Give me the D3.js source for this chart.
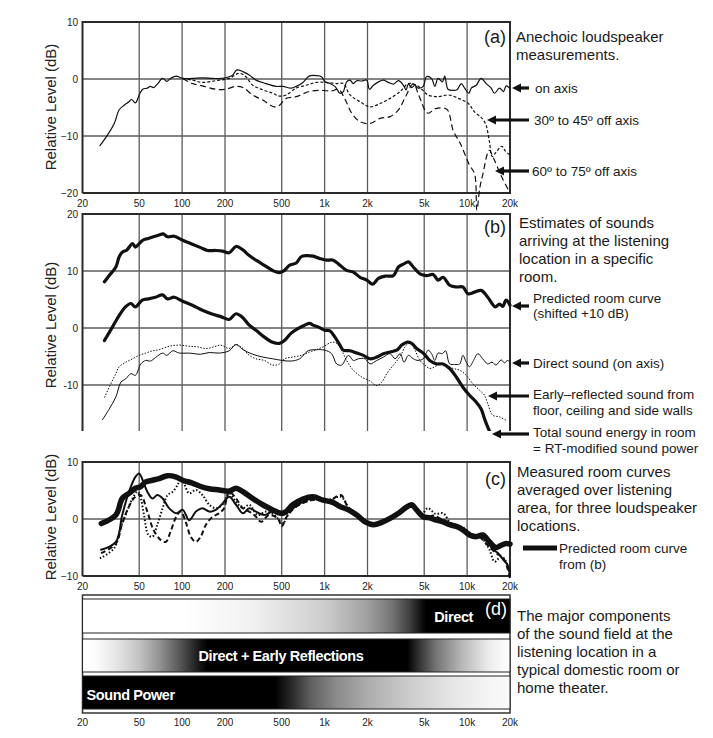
<!DOCTYPE html>
<html><head><meta charset="utf-8">
<script src="https://cdn.jsdelivr.net/npm/d3@7"></script>
<style>body{margin:0;background:#fff}svg{display:block}</style>
</head><body><svg id="chart" width="713" height="738"></svg>
<script>
// ---------- DATA ----------
const freqTicks = [20,50,100,200,500,1000,2000,5000,10000,20000];
const freqLabels = ["20","50","100","200","500","1k","2k","5k","10k","20k"];
const gridFreqs = [50,100,200,500,1000,2000,5000,10000];

const yTicksA = [10,0,-10,-20], yLabelsA = ["10","0","\u221210","\u221220"];
const yTicksB = [20,10,0,-10],  yLabelsB = ["20","10","0","-10"];
const yTicksC = [10,0,-10],     yLabelsC = ["10","0","\u221210"];

// (a) anechoic
const onAxis = [[26.5,-11.7],[30,-9.8],[33.4,-7.8],[36.2,-5.4],[39.2,-4.6],[42.4,-4],[44.2,-3.6],[47,-4.2],[50.6,-2.5],[52.9,-1.8],[57,-1.6],[60,-1.3],[63,-1.5],[67,-0.9],[73,0.1],[78,-0.4],[83,0.1],[91,0.5],[101,0.1],[118,0.1],[139,0.2],[164,0.1],[192,0.1],[214,0.4],[227,0.7],[242,1.6],[267,1.3],[296,0.7],[330,-0.2],[388,-0.8],[456,-1.3],[509,-1.3],[583,-1.6],[632,-1.3],[705,-0.6],[778,0.5],[877,0.6],[951,0.4],[1005,-0.5],[1090,-0.8],[1182,-1.3],[1282,-2.5],[1353,-2.2],[1428,-0.5],[1508,-0.2],[1591,-0.8],[1680,-0.3],[1822,-0.35],[1975,-0.2],[2063,-1.8],[2200,-1.1],[2386,-0.5],[2587,-0.2],[2805,-0.6],[3041,-0.9],[3297,-0.3],[3574,-1.1],[3730,-1.9],[3872,-0.9],[4083,-1.5],[4305,-1.1],[4540,-1.6],[4921,-1.3],[5190,0.4],[5627,0.1],[5934,-1.3],[6257,0.1],[6710,-0.5],[6966,0.5],[7345,-1.8],[7963,-2],[8490,-1.9],[9100,-0.8],[9605,-1.6],[10295,-2.5],[10690,-1.6],[11580,-1.1],[12550,0.1],[13610,-0.8],[14750,-1.6],[15570,-2.5],[16880,-1.6],[18000,-2.2],[18790,-1.2],[19830,-1.6]];
const offAxis30 = [[101,0.1],[118,-0.2],[139,-0.6],[172,-0.3],[214,0.1],[251,1.0],[280,0.4],[313,-1.1],[368,-1.9],[432,-2.5],[482,-3.0],[537,-2.8],[632,-1.6],[740,-1.1],[877,-0.6],[1032,-0.6],[1215,-0.8],[1353,-0.8],[1508,-2.8],[1774,-4.0],[2086,-4.9],[2450,-4.3],[2880,-3.4],[3388,-2.2],[3872,-0.8],[4420,-1.1],[4900,-2.0],[5300,-2.8],[6300,-3.1],[7400,-2.8],[8700,-3.4],[10200,-4.3],[11300,-5.8],[12500,-6.7],[13500,-7.9],[14300,-10.8],[15000,-13.6],[16000,-12.8],[17500,-11.8],[18500,-12.6],[19900,-13.3]];
const offAxis60 = [[101,0.1],[118,-0.8],[139,-1.2],[172,-1.8],[200,-1.8],[239,-1.3],[267,-1.5],[313,-2.8],[368,-3.7],[442,-4.9],[482,-4.6],[537,-3.4],[632,-3.1],[778,-2.2],[950,-2],[1120,-2.1],[1250,-1.8],[1400,-3.7],[1550,-6],[1774,-7.5],[2086,-7.8],[2450,-6.9],[2880,-6.6],[3300,-5.4],[3700,-3.1],[4200,-0.8],[4600,-3.0],[5300,-6],[6000,-5.2],[7200,-5.3],[8000,-9.1],[9000,-11.4],[10300,-14.9],[11300,-16.7],[11700,-23],[12300,-19],[12900,-16.7],[14300,-12.5],[15400,-14],[17500,-17.2],[20000,-20]];

// (b) estimates
const predictedShifted = [[28.5,8.1],[30.8,9.2],[34.3,10.7],[36.2,12.5],[38,13.3],[41,13.7],[44.9,14.8],[47,14.2],[51.3,15.1],[54,15.5],[58,15.7],[63,16],[69,16.3],[73.6,16.5],[79,16],[88,16.1],[101,15.4],[118,14.7],[135,14.1],[151,13.6],[172,13.6],[192,13.5],[214,13.2],[239,14.3],[267,13.7],[296,12.7],[330,11.9],[378,11],[432,10.1],[482,9.7],[523,10.1],[566,11],[632,11.4],[685,12.5],[740,12.7],[830,12.6],[925,12.2],[1032,11.9],[1150,11.9],[1282,11],[1428,10.1],[1591,9.8],[1774,8.9],[1975,8.4],[2176,7.7],[2386,8.7],[2657,9.1],[3041,9.2],[3297,10.7],[3574,11.2],[3872,11.6],[4193,10.7],[4667,9.5],[5190,9.2],[5780,9.4],[6257,8.4],[6780,8.9],[7546,7.5],[8400,7.2],[9350,7.2],[10130,6.0],[11280,6.3],[12550,6.6],[13960,5.4],[15770,3.7],[16880,4.2],[17790,3.8],[18790,4.9],[20000,4]];
const totalEnergy = [[28.5,-2.2],[32.5,0.2],[36.2,2.2],[40,3.7],[43.7,4.3],[47,3.7],[52.6,4.9],[58,5.1],[65,5.4],[73,5.8],[79,5.1],[88,5.4],[101,4.7],[118,4],[139,3.1],[164,2.4],[187,2],[214,1.5],[239,2.5],[267,1.8],[296,0.5],[330,-0.4],[378,-1.6],[432,-2.5],[482,-2.7],[523,-2.2],[583,-0.9],[650,-0.1],[724,0.5],[787,0.8],[830,0.5],[900,0.2],[1005,-0.4],[1090,-0.5],[1182,-1.6],[1282,-3],[1353,-3.9],[1508,-4],[1680,-4.4],[1872,-4.8],[2086,-5.4],[2324,-5.1],[2587,-4.5],[2880,-4.2],[3206,-3.9],[3478,-3],[3770,-2.5],[4083,-2.7],[4420,-3.6],[4921,-4.4],[5470,-5.7],[6100,-6.3],[6780,-6.3],[7546,-7.1],[8400,-8.6],[9350,-10.4],[10400,-11.8],[11580,-13],[12550,-14.2],[13240,-15.9],[13960,-17.4],[14500,-18.3]];
const directSound = [[27.6,-16.1],[30.8,-14.2],[34.3,-12.1],[37.2,-9.5],[40.3,-8.9],[43.7,-8],[47,-8.3],[51.3,-6.3],[55.5,-5.7],[60,-5.8],[65,-5.2],[73,-4.4],[78,-4.8],[86,-4],[95.5,-4.4],[112,-4.4],[135,-4.6],[155,-4.3],[182,-4.4],[214,-4],[239,-2.9],[267,-3.8],[313,-4.6],[368,-5.1],[432,-5.4],[509,-5.7],[583,-5.8],[668,-5.4],[766,-4],[877,-3.8],[1005,-3.9],[1120,-4.5],[1215,-6.3],[1317,-6.5],[1468,-4.8],[1591,-5.7],[1728,-5.4],[1924,-5.4],[2086,-6.3],[2324,-5.7],[2587,-5.1],[2880,-4.5],[3121,-5.4],[3388,-4.5],[3612,-6],[3872,-4.8],[4193,-5.4],[4540,-5.7],[4921,-5.4],[5330,-3.9],[5627,-4.5],[5934,-5.7],[6257,-4.4],[6710,-4.5],[7066,-4],[7546,-6.3],[8170,-6.4],[8870,-6.3],[9350,-4.8],[9860,-6],[10400,-6.8],[11090,-5.7],[11900,-4.5],[12870,-5.4],[13960,-6.3],[14960,-6],[15940,-6.5],[17350,-5.6],[18270,-6.1],[19250,-5.7],[20000,-6]];
const earlyReflected = [[28.5,-12.2],[31.6,-9.8],[34.3,-8],[36.2,-6.8],[40.3,-6],[44.9,-5.4],[50,-4.8],[55.5,-4.4],[62,-4],[69,-3.8],[81,-3.2],[95.5,-3],[112,-3.2],[128,-3.3],[147,-3.6],[168,-3.3],[187,-3],[214,-3.6],[239,-2.9],[267,-3.6],[296,-4.8],[330,-5.4],[378,-5.7],[432,-6.5],[482,-6.3],[523,-5.4],[598,-5.1],[685,-4.8],[787,-4.2],[877,-3.8],[978,-3.3],[1120,-2.5],[1215,-2.7],[1317,-3.9],[1428,-5.7],[1591,-7.4],[1822,-8.6],[2086,-9.3],[2324,-10.1],[2520,-9.5],[2730,-8],[3041,-6.5],[3388,-5],[3670,-3.3],[3975,-2.5],[4305,-3.9],[4667,-5.7],[5050,-6.5],[5470,-7.1],[5934,-6.8],[6430,-6.3],[7150,-6.5],[7963,-7.1],[8870,-7.4],[9860,-8.3],[10970,-9.8],[12210,-10.9],[13240,-11.8],[13960,-13.3],[15120,-15.3],[16880,-15.6],[18790,-16.2]];

// (c) measured
const predictedC = [[27.1,-0.8],[34.3,0.7],[38,3.6],[42.4,4.5],[47,5.4],[51.3,5.7],[55.5,6.5],[62,6.8],[69,7.1],[79,7.6],[90,7.4],[101,6.8],[118,6.3],[135,5.7],[155,5.3],[182,5.1],[214,4.9],[239,5.4],[267,4.8],[313,3.6],[368,2.5],[432,1.6],[495,1],[537,1.3],[598,2.5],[705,3.5],[830,3.9],[978,3.3],[1120,3],[1282,2.2],[1468,1.6],[1680,0.7],[1924,-0.5],[2200,-1],[2520,-0.6],[2880,0.1],[3297,1],[3670,1.9],[4083,2.5],[4420,1.6],[4921,0.4],[5470,0.2],[6100,-0.2],[6780,-0.5],[7546,-1],[8400,-1.3],[9350,-1.9],[10400,-2.8],[11580,-3.1],[12870,-2.8],[14330,-4],[15940,-5],[17350,-4.6],[18790,-4.3],[20000,-4.4]];
const measSolid = [[27,-5.4],[34.3,-4],[38,0.7],[42.4,4.8],[47,7.4],[50,8],[52.9,6.8],[57,4.8],[62,3.6],[67,4.2],[73,3.6],[81,1.9],[91,1],[101,1.6],[112,-0.2],[125,1.3],[139,1.9],[155,1.3],[172,1.6],[192,2.7],[214,3.9],[239,2.5],[267,1],[296,1.9],[330,1.3],[378,0.7],[432,1.3],[509,0.7],[580,1.6],[680,2.8],[820,3.6],[980,3.1],[1150,2.6],[1350,1.8],[1600,0.9],[1900,-0.4],[2200,-1.0],[2600,-0.4],[3000,0.4],[3500,1.6],[4000,2.2],[4500,1.2],[5000,0.1],[5600,0.3],[6300,-0.3],[7200,-0.8],[8200,-1.2],[9400,-2.0],[10500,-2.7],[12000,-3.0],[13500,-3.6],[15000,-5.2],[16500,-6.0],[18000,-7.2],[19200,-8.0],[20000,-9.8]];
const measDotted = [[26.5,-6.9],[33.4,-5.1],[37,-1.6],[41,1.3],[44.9,3.6],[48.5,4.8],[51.3,3.6],[54,0.7],[58,-2.8],[62,-3.1],[67,-1],[73,1.9],[79,4.2],[86,4.8],[93,6],[98,7.1],[104,6],[112,4.5],[125,5.1],[139,4.2],[155,2.5],[172,1.9],[192,2.5],[214,4.5],[239,3],[267,1.9],[296,2.5],[339,0.7],[388,1.3],[445,0.7],[509,-0.8],[552,0.7],[640,2.4],[760,3.2],[900,3.7],[1050,3.3],[1300,3.9],[1500,1.8],[1750,0.5],[2000,-0.6],[2400,-0.8],[2800,0.2],[3300,1.2],[3800,2.4],[4300,2.0],[4800,0.8],[5300,1.9],[6000,0.9],[6800,1.0],[7600,-0.6],[8500,-1.1],[9500,-1.6],[10800,-2.6],[12300,-3.0],[14300,-5.3],[15600,-7.5],[17300,-6.6],[18800,-7.5],[20000,-10]];
const measDashed = [[27,-6],[34.3,-4.3],[38,-0.8],[42.4,2.2],[47,3.9],[51.3,4.2],[57,1.3],[63,-1.9],[71,-3.7],[77,-4],[83,-2.2],[91,0.4],[98,1.3],[106,-0.5],[115,-3.1],[125,-4],[135,-3.1],[147,-1],[164,0.4],[182,1],[197,1.9],[214,4.8],[239,3.6],[267,1.9],[296,1.3],[330,0.4],[358,-0.5],[407,0.7],[470,0.1],[500,-1.3],[542,0.4],[620,2.0],[740,3.0],[880,3.4],[1050,3.0],[1300,4.2],[1450,2.2],[1700,0.8],[1950,-0.6],[2300,-0.8],[2700,0],[3200,1.0],[3700,2.1],[4200,2.3],[4700,1.0],[5200,0.2],[5800,0.6],[6600,0.0],[7500,-0.7],[8400,-1.4],[9400,-1.7],[10600,-2.9],[12200,-3.2],[14300,-4.9],[16000,-6.0],[18000,-6.9],[20000,-10.4]];

// (d) shading of the three bands: [frequency, grey level 0..255]
const shadeDirect = [[20,255],[100,255],[300,242],[1000,205],[2000,160],[3000,115],[4000,60],[4800,15],[5200,0],[20000,0]];
const shadeEarly  = [[20,255],[25,252],[35,228],[50,195],[70,145],[100,80],[130,25],[150,0],[3800,0],[4500,45],[6000,115],[9000,180],[14000,235],[18000,250],[20000,255]];
const shadePower  = [[20,0],[450,0],[600,45],[800,95],[1200,138],[2000,172],[4000,205],[8000,230],[14000,245],[20000,250]];

// ---------- DRAWING ----------
const FONT = "'Liberation Sans', Arial, Helvetica, sans-serif";
const svg = d3.select("#chart");
svg.append("rect").attr("width",713).attr("height",738).attr("fill","#fff");

const x = d3.scaleLog().domain([20,20000]).range([82.5,510]);
const yA = d3.scaleLinear().domain([-20,10]).range([193,22]);
const yB = d3.scaleLinear().domain([-10,20]).range([385,214]);
const yC = d3.scaleLinear().domain([-10,10]).range([576,462]);

function gridPanel(y, top, bottom, ticks, labels, drawBottom) {
  const g = svg.append("g");
  g.selectAll(".vg").data(gridFreqs).enter().append("line")
    .attr("x1",d=>x(d)).attr("x2",d=>x(d)).attr("y1",top).attr("y2",bottom)
    .attr("stroke","#5c5c5c").attr("stroke-width",1.3);
  g.selectAll(".hg").data(ticks.filter(t=>y(t)>top+1 && y(t)<bottom-1)).enter().append("line")
    .attr("x1",x.range()[0]).attr("x2",x.range()[1]).attr("y1",d=>y(d)).attr("y2",d=>y(d))
    .attr("stroke","#5c5c5c").attr("stroke-width",1.3);
  const x0 = x.range()[0], x1 = x.range()[1];
  let p = `M${x0},${bottom}V${top}H${x1}V${bottom}`;
  if (drawBottom) p += `H${x0}`;
  g.append("path").attr("d",p).attr("fill","none").attr("stroke","#2a2a2a").attr("stroke-width",2);
  g.selectAll(".yl").data(ticks).enter().append("text")
    .attr("x",78).attr("y",d=>y(d)+3.5).attr("text-anchor","end")
    .attr("font-family",FONT).attr("font-size",10).attr("fill","#222")
    .text((d,i)=>labels[i]);
}
function xLabels(yBase) {
  svg.append("g").selectAll("text").data(freqTicks).enter().append("text")
    .attr("x",d=>x(d)).attr("y",yBase).attr("text-anchor","middle")
    .attr("font-family",FONT).attr("font-size",10).attr("fill","#222")
    .text((d,i)=>freqLabels[i]);
}
function yTitle(cy) {
  svg.append("text").attr("transform",`translate(56,${cy}) rotate(-90)`)
    .attr("text-anchor","middle").attr("font-family",FONT).attr("font-size",15).attr("fill","#222")
    .text("Relative Level (dB)");
}
function curve(data, y, opts) {
  const line = d3.line().x(d=>x(d[0])).y(d=>y(d[1])).curve(d3.curveCatmullRom.alpha(0.5));
  const p = svg.append("path").datum(data).attr("d",line).attr("fill","none")
    .attr("stroke","#111").attr("stroke-width",opts.w).attr("stroke-linejoin","round").attr("stroke-linecap","round");
  if (opts.dash) p.attr("stroke-dasharray",opts.dash).attr("stroke-linecap","butt");
  if (opts.clip) p.attr("clip-path",opts.clip);
}
function txt(s, tx, ty, size, opts={}) {
  const t = svg.append("text").attr("x",tx).attr("y",ty).attr("font-family",FONT)
    .attr("font-size",size).attr("fill",opts.fill||"#1a1a1a").text(s);
  if (opts.anchor) t.attr("text-anchor",opts.anchor);
  if (opts.bold) t.attr("font-weight","bold");
  return t;
}
function arrow(tip, tail, y) {
  svg.append("line").attr("x1",tip+6).attr("x2",tail).attr("y1",y).attr("y2",y)
    .attr("stroke","#111").attr("stroke-width",3.2);
  svg.append("path").attr("d",`M${tip},${y}L${tip+9},${y-4.5}L${tip+9},${y+4.5}Z`).attr("fill","#111");
}

// Panel (a)
gridPanel(yA, 22, 193, yTicksA, yLabelsA, true);
xLabels(207);
yTitle(107);
curve(onAxis, yA, {w:1.2});
curve(offAxis30, yA, {w:1.2, dash:"3,2"});
curve(offAxis60, yA, {w:1.2, dash:"6,3.5"});
txt("(a)", 506, 43, 18, {anchor:"end"});
txt("Anechoic loudspeaker", 516, 42, 15);
txt("measurements.", 516, 60, 15);
arrow(512, 529, 88); txt("on axis", 535, 92.5, 13.5);
arrow(487, 529, 120); txt("30\u00ba to 45\u00ba off axis", 534, 124.5, 13.5);
arrow(495, 529, 171); txt("60\u00ba to 75\u00ba off axis", 532, 175.5, 13.5);

// Panel (b)
svg.append("clipPath").attr("id","clipB").append("rect").attr("x",82).attr("y",214).attr("width",430).attr("height",217);
gridPanel(yB, 214, 431, yTicksB, yLabelsB, false);
yTitle(325);
curve(earlyReflected, yB, {w:1, dash:"1.5,1.5", clip:"url(#clipB)"});
curve(directSound, yB, {w:1, clip:"url(#clipB)"});
curve(predictedShifted, yB, {w:3.2, clip:"url(#clipB)"});
curve(totalEnergy, yB, {w:3.2, clip:"url(#clipB)"});
txt("(b)", 506, 233, 18, {anchor:"end"});
["Estimates of sounds","arriving at the listening","location in a specific","room."].forEach((s,i)=>txt(s,519,228+18*i,15));
arrow(512, 529, 306); txt("Predicted room curve", 533, 302.5, 13.5); txt("(shifted +10 dB)", 533, 318, 13.5);
arrow(512, 529, 363); txt("Direct sound (on axis)", 533, 367.5, 13.5);
arrow(488, 529, 396); txt("Early\u2013reflected sound from", 533, 399, 13.5); txt("floor, ceiling and side walls", 533, 414.5, 13.5);
arrow(492, 529, 434); txt("Total sound energy in room", 533, 437, 13.5); txt("= RT-modified sound power", 533, 452.5, 13.5);

// Panel (c)
gridPanel(yC, 462, 576, yTicksC, yLabelsC, true);
xLabels(589.5);
yTitle(517);
curve(measDashed, yC, {w:2, dash:"5,3"});
curve(measDotted, yC, {w:2, dash:"1.5,2"});
curve(measSolid, yC, {w:2});
curve(predictedC, yC, {w:5.5});
txt("(c)", 506, 485, 18, {anchor:"end"});
["Measured room curves","averaged over listening","area, for three loudspeaker","locations."].forEach((s,i)=>txt(s,517,477+18*i,15));
svg.append("line").attr("x1",523).attr("x2",557).attr("y1",548).attr("y2",548).attr("stroke","#111").attr("stroke-width",5);
txt("Predicted room curve", 559, 553, 13.5); txt("from (b)", 559, 569, 13.5);

// Panel (d)
const defs = svg.append("defs");
function grad(id, stops) {
  const g = defs.append("linearGradient").attr("id",id).attr("gradientUnits","userSpaceOnUse")
    .attr("x1",x(20)).attr("x2",x(20000)).attr("y1",0).attr("y2",0);
  const span = x(20000)-x(20);
  stops.forEach(s=>g.append("stop").attr("offset",(x(s[0])-x(20))/span)
    .attr("stop-color",d3.rgb(s[1],s[1],s[1]).toString()));
}
grad("gDirect", shadeDirect); grad("gEarly", shadeEarly); grad("gPower", shadePower);
svg.append("rect").attr("x",x.range()[0]).attr("y",595).attr("width",x.range()[1]-x.range()[0]).attr("height",118)
  .attr("fill","#fff").attr("stroke","#333").attr("stroke-width",1.5);
[[599,34,"gDirect"],[639,33,"gEarly"],[676,33,"gPower"]].forEach(b=>{
  svg.append("rect").attr("x",x.range()[0]).attr("y",b[0]).attr("width",x.range()[1]-x.range()[0]).attr("height",b[1])
    .attr("fill",`url(#${b[2]})`).attr("stroke","#222").attr("stroke-width",1);
});
txt("Direct", 473, 621.5, 14.5, {anchor:"end", bold:true, fill:"#fff"}).attr("letter-spacing",-0.4);
txt("(d)", 507, 615, 18, {anchor:"end", fill:"#fff"});
txt("Direct + Early Reflections", 281, 661, 14.5, {anchor:"middle", bold:true, fill:"#fff"}).attr("letter-spacing",-0.4);
txt("Sound Power", 86.5, 700, 14.5, {bold:true, fill:"#fff"}).attr("letter-spacing",-0.4);
xLabels(725.5);
["The major components","of the sound field at the","listening location in a","typical domestic room or","home theater."].forEach((s,i)=>txt(s,517,621+18*i,15));
</script></body></html>
